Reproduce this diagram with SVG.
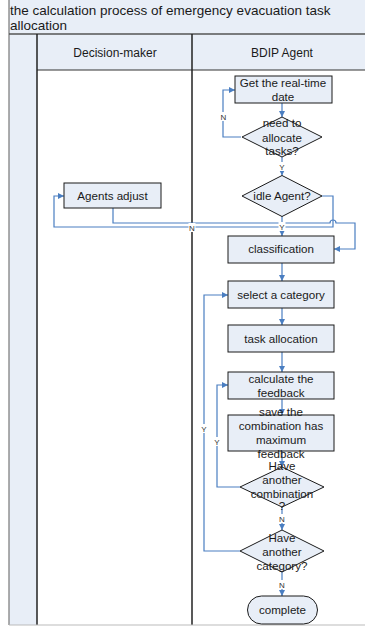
<svg xmlns="http://www.w3.org/2000/svg" width="365" height="626" viewBox="0 0 365 626">
<defs>
<marker id="arr" markerUnits="userSpaceOnUse" markerWidth="6" markerHeight="6" refX="6" refY="3" orient="auto">
<path d="M0,0 L6,3 L0,6 z" fill="#4A7EC1"/>
</marker>
<style>
.bg{fill:#E8EEF7}
.node{fill:#E8EEF7;stroke:#1a1a1a;stroke-width:1}
.t{font-family:"Liberation Sans",Arial,sans-serif;font-size:11.6px;fill:#1a1a1a;text-anchor:middle}
.h{font-family:"Liberation Sans",Arial,sans-serif;font-size:12px;fill:#1a1a1a;text-anchor:middle}
.title{font-family:"Liberation Sans",Arial,sans-serif;font-size:13.5px;fill:#1a1a1a}
.c{fill:none;stroke:#4A7EC1;stroke-width:1.2}
.ca{fill:none;stroke:#4A7EC1;stroke-width:1.2;marker-end:url(#arr)}
.lbl{font-family:"Liberation Sans",Arial,sans-serif;font-size:8px;fill:#333;text-anchor:middle}
.lb{fill:#fff}
</style>
</defs>
<g id="pool">
<rect class="bg" x="9" y="0" width="356" height="34"/>
<rect class="bg" x="37" y="34" width="328" height="36"/>
<rect class="bg" x="9" y="34" width="28" height="591"/>
<line x1="9" y1="0" x2="9" y2="625" stroke="#777" stroke-width="1.2"/>
<line x1="9" y1="34" x2="365" y2="34" stroke="#555" stroke-width="1.5"/>
<line x1="37" y1="70" x2="365" y2="70" stroke="#333" stroke-width="1.2"/>
<line x1="37" y1="34" x2="37" y2="625" stroke="#222" stroke-width="1.5"/>
<line x1="192" y1="34" x2="192" y2="625" stroke="#222" stroke-width="1.5"/>
<line x1="9" y1="625" x2="365" y2="625" stroke="#bbb" stroke-width="1"/>
<text class="title" x="10" y="15">the calculation process of emergency evacuation task</text>
<text class="title" x="10" y="30">allocation</text>
<text class="h" x="115" y="57">Decision-maker</text>
<text class="h" x="282" y="57">BDIP Agent</text>
</g>
<g id="connectors">
<path class="ca" d="M282,103 V117"/>
<path class="ca" d="M241,137 H223 V90 H235"/>
<path class="ca" d="M282,157 V175.5"/>
<path class="ca" d="M322,196 H333 V227 H54 V196 H64"/>
<path class="ca" d="M282,216 V236"/>
<path class="ca" d="M113,208 V223 H330 A3,3 0 0 1 336,223 H355 V249 H334"/>
<path class="ca" d="M282,263 V281"/>
<path class="ca" d="M282,308 V325"/>
<path class="ca" d="M282,352 V372"/>
<path class="ca" d="M282,399 V415"/>
<path class="ca" d="M282,451 V467"/>
<path class="ca" d="M240,487 H217 V385 H228"/>
<path class="ca" d="M282,507 V530"/>
<path class="ca" d="M240,551 H204 V295 H228"/>
<path class="ca" d="M282,572 V596"/>
<rect class="lb" x="220" y="112" width="7" height="9"/>
<text class="lbl" x="223.5" y="119.5">N</text>
<rect class="lb" x="278.5" y="162" width="7" height="9"/>
<text class="lbl" x="282" y="169.5">Y</text>
<rect class="lb" x="188.5" y="223" width="7" height="9"/>
<text class="lbl" x="192" y="230.5">N</text>
<rect class="lb" x="278.5" y="222" width="7" height="9"/>
<text class="lbl" x="282" y="229.5">Y</text>
<rect class="lb" x="200.5" y="424" width="7" height="9"/>
<text class="lbl" x="204" y="431.5">Y</text>
<rect class="lb" x="213.5" y="437" width="7" height="9"/>
<text class="lbl" x="217" y="444.5">Y</text>
<rect class="lb" x="278.5" y="514" width="7" height="9"/>
<text class="lbl" x="282" y="521.5">N</text>
<rect class="lb" x="278.5" y="580" width="7" height="9"/>
<text class="lbl" x="282" y="587.5">N</text>
</g>
<g id="get-date">
<rect class="node" x="235" y="76" width="97" height="27"/>
<text class="t" x="283" y="86.5">Get the real-time</text>
<text class="t" x="283" y="100.5">date</text>
</g>
<g id="need-allocate">
<polygon class="node" points="282,117 322,137 282,157 242,137"/>
<text class="t" x="282" y="127">need to</text>
<text class="t" x="282" y="141.5">allocate</text>
<text class="t" x="282" y="155">tasks?</text>
</g>
<g id="idle-agent">
<polygon class="node" points="282,175.5 322,196 282,216.5 242,196"/>
<text class="t" x="282" y="200">idle Agent?</text>
</g>
<g id="agents-adjust">
<rect class="node" x="64" y="183" width="97" height="25"/>
<text class="t" x="112.5" y="200">Agents adjust</text>
</g>
<g id="classification">
<rect class="node" x="228" y="236" width="106" height="27"/>
<text class="t" x="281" y="253">classification</text>
</g>
<g id="select-category">
<rect class="node" x="228" y="281" width="106" height="27"/>
<text class="t" x="281" y="298.5">select a category</text>
</g>
<g id="task-allocation">
<rect class="node" x="228" y="325" width="106" height="27"/>
<text class="t" x="281" y="343">task allocation</text>
</g>
<g id="calc-feedback">
<rect class="node" x="228" y="372" width="106" height="27"/>
<text class="t" x="281" y="382.5">calculate the</text>
<text class="t" x="281" y="396.5">feedback</text>
</g>
<g id="save-combination">
<rect class="node" x="228" y="415" width="106" height="36"/>
<text class="t" x="281" y="416">save the</text>
<text class="t" x="281" y="430">combination has</text>
<text class="t" x="281" y="444">maximum</text>
<text class="t" x="281" y="457.5">feedback</text>
</g>
<g id="another-combination">
<polygon class="node" points="282,467 324,487 282,507 240,487"/>
<text class="t" x="282" y="470">Have</text>
<text class="t" x="282" y="483.5">another</text>
<text class="t" x="282" y="497.5">combination</text>
<text class="t" x="282" y="510">?</text>
</g>
<g id="another-category">
<polygon class="node" points="282,530 324,551 282,572 240,551"/>
<text class="t" x="282" y="541.5">Have</text>
<text class="t" x="282" y="556">another</text>
<text class="t" x="282" y="570">category?</text>
</g>
<g id="complete">
<rect class="node" x="247.5" y="596" width="70" height="28" rx="14" ry="14"/>
<text class="t" x="282.5" y="614">complete</text>
</g>
</svg>
